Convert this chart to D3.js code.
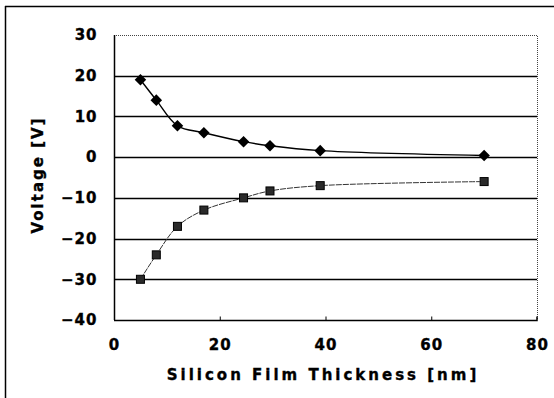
<!DOCTYPE html>
<html>
<head>
<meta charset="utf-8">
<style>
  body { margin: 0; background: #fff; }
  text { font-family: "DejaVu Sans", sans-serif; font-weight: bold; fill: #000; stroke: #000; stroke-width: 0.35px; }
</style>
</head>
<body>
<svg width="554" height="398"></svg>
<script src="https://d3js.org/d3.v7.min.js"></script>
<script>
    var thickness = [5, 8, 12, 17, 24.5, 29.5, 39, 70];
    var upperVoltage = [19, 14, 7.7, 6, 3.8, 2.8, 1.6, 0.4];
    var lowerVoltage = [-30, -24, -17, -13, -10, -8.3, -7, -6];
    var xTicks = [0, 20, 40, 60, 80];
    var yTicks = [30, 20, 10, 0, -10, -20, -30, -40];

    var svg = d3.select("svg"),
        width = +svg.attr("width"),
        height = +svg.attr("height");

    var plotLeft = 114, plotRight = 537, plotTop = 35, plotBottom = 320;

    var x = d3.scaleLinear().domain([0, 80]).range([plotLeft, plotRight]);
    var y = d3.scaleLinear().domain([-40, 30]).range([plotBottom, plotTop]);

    // outer frame (only left and top edges visible)
    svg.append("line")
        .attr("x1", 5.5).attr("y1", 6).attr("x2", 5.5).attr("y2", height)
        .attr("stroke", "#000").attr("stroke-width", 1.5);
    svg.append("line")
        .attr("x1", 5).attr("y1", 6.5).attr("x2", width).attr("y2", 6.5)
        .attr("stroke", "#000").attr("stroke-width", 1.5);

    // gridlines
    svg.append("g")
        .selectAll("line")
        .data(yTicks.filter(function(d) { return d > -40 && d < 30; }))
        .enter().append("line")
        .attr("x1", plotLeft).attr("x2", plotRight)
        .attr("y1", function(d) { return Math.round(y(d)) + 0.5; })
        .attr("y2", function(d) { return Math.round(y(d)) + 0.5; })
        .attr("stroke", "#000").attr("stroke-width", 1.5);

    // top and right dotted border
    svg.append("path")
        .attr("d", "M" + plotLeft + "," + (plotTop + 0.5) + "H" + (plotRight + 0.5) + "V" + plotBottom)
        .attr("fill", "none").attr("stroke", "#444")
        .attr("stroke-width", 1).attr("stroke-dasharray", "1,1");

    // axes
    var xAxis = svg.append("g")
        .attr("transform", "translate(0," + (plotBottom + 0.5) + ")")
        .call(d3.axisBottom(x).tickValues(xTicks).tickSize(-4).tickPadding(19).tickFormat(d3.format("d")));
    var yAxis = svg.append("g")
        .attr("transform", "translate(" + (plotLeft + 0.5) + ",0)")
        .call(d3.axisLeft(y).tickValues(yTicks).tickSize(0).tickPadding(17)
            .tickFormat(function(d) { return d < 0 ? "\u2212" + Math.abs(d) : d; }));

    [xAxis, yAxis].forEach(function(a) {
        a.select(".domain").attr("stroke", "#000").attr("stroke-width", 1.5);
        a.selectAll(".tick line").attr("stroke", "#000");
        a.selectAll("text")
            .style("font-family", "DejaVu Sans, sans-serif")
            .style("font-weight", "bold")
            .style("font-size", "15px")
            .style("letter-spacing", "1px")
            .attr("fill", "#000");
    });
    xAxis.select(".domain").attr("d", "M" + plotLeft + ",0H" + plotRight + "V-4");
    yAxis.select(".domain").attr("d", "M0," + plotTop + "V" + plotBottom);
    xAxis.selectAll(".tick").filter(function(d) { return d === 0 || d === 80; }).select("line").remove();

    // axis titles
    svg.append("text")
        .attr("x", 323)
        .attr("y", 380)
        .attr("text-anchor", "middle")
        .style("font-size", "15px")
        .style("letter-spacing", "3px")
        .text("Silicon Film Thickness [nm]");
    svg.append("text")
        .attr("transform", "translate(43,175) rotate(-90)")
        .attr("text-anchor", "middle")
        .style("font-size", "15px")
        .style("letter-spacing", "2px")
        .text("Voltage [V]");

    var upper = thickness.map(function(t, i) { return [t, upperVoltage[i]]; });
    var lower = thickness.map(function(t, i) { return [t, lowerVoltage[i]]; });

    var line = d3.line()
        .x(function(d) { return x(d[0]); })
        .y(function(d) { return y(d[1]); })
        .curve(d3.curveCatmullRom.alpha(0.5));

    svg.append("path")
        .attr("d", line(upper))
        .attr("fill", "none").attr("stroke", "#000").attr("stroke-width", 1.4);
    svg.append("path")
        .attr("d", line(lower))
        .attr("fill", "none").attr("stroke", "#333").attr("stroke-width", 1)
        .attr("stroke-dasharray", "6,1");

    svg.append("g")
        .selectAll("path")
        .data(upper)
        .enter().append("path")
        .attr("d", d3.symbol().type(d3.symbolDiamond2).size(85))
        .attr("transform", function(d) { return "translate(" + x(d[0]) + "," + y(d[1]) + ")"; })
        .attr("fill", "#000");

    svg.append("g")
        .selectAll("rect")
        .data(lower)
        .enter().append("rect")
        .attr("x", function(d) { return x(d[0]) - 4; })
        .attr("y", function(d) { return y(d[1]) - 4; })
        .attr("width", 8).attr("height", 8)
        .attr("fill", "#2a2a2a").attr("stroke", "#000").attr("stroke-width", 1);
</script>
</body>
</html>
